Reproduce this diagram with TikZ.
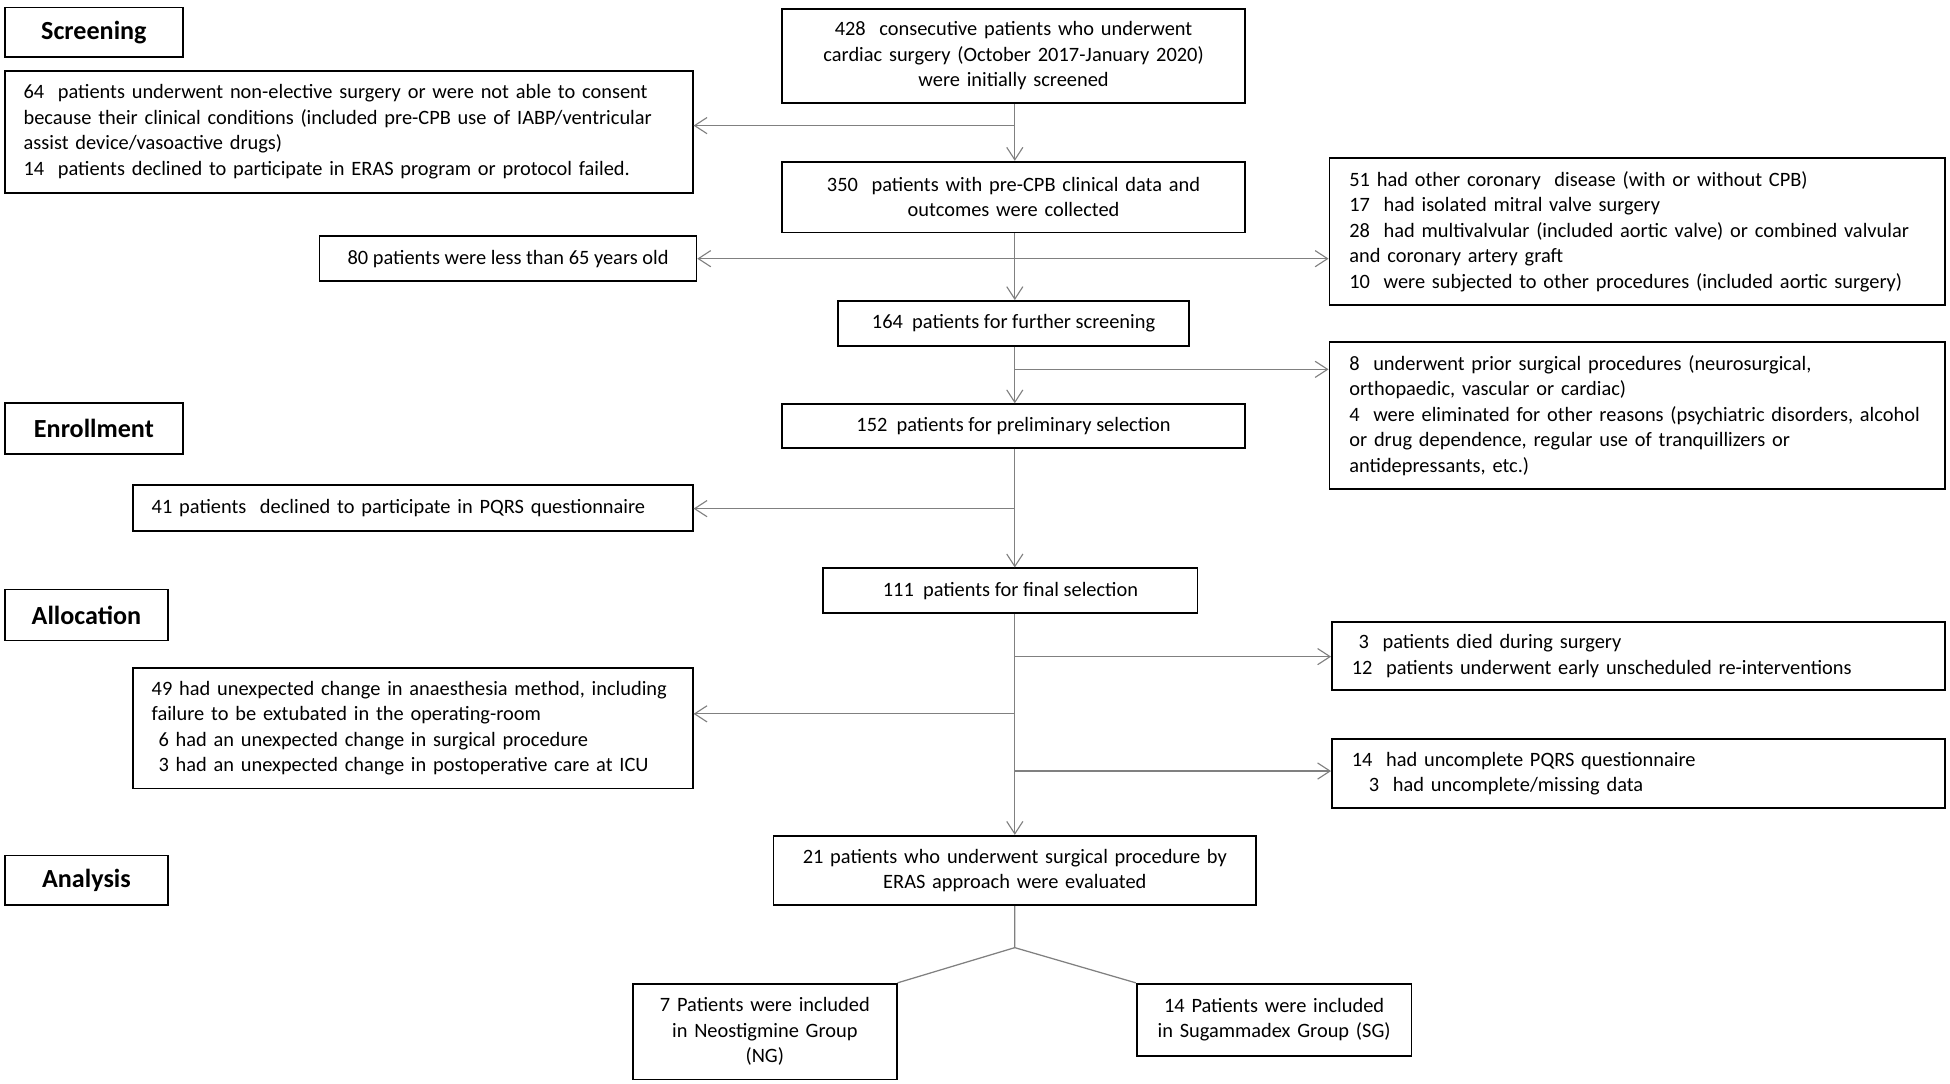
\documentclass[tikz,border=0pt]{standalone}
\usepackage{fontspec}
\setmainfont{Carlito}
\usetikzlibrary{arrows.meta}
\newcommand{\fsbody}{\fontsize{16.4}{20.5}\selectfont}
\newcommand{\fshead}{\fontsize{21}{25}\selectfont\bfseries}
\tikzset{
  bx/.style={draw=black, line width=1.4pt, inner sep=0pt, font=\fsbody, align=center},
  lbx/.style={bx, align=left},
  hbx/.style={draw=black, line width=1.4pt, inner sep=0pt, font=\fshead, align=center},
  ln/.style={draw=black!50, line width=1pt},
  arr/.style={ln, -{Straight Barb[length=10pt,width=13pt,line width=0.9pt]}},
}
\begin{document}
\begin{tikzpicture}[x=1pt,y=-1pt]
\fill[white] (0,0) rectangle (1568,871.6);
\useasboundingbox (0,0) rectangle (1568,871.6);

% stage headings
\node[hbx, minimum width=143, minimum height=40] (hS) at (75.5,26) {Screening};
\node[hbx, minimum width=143, minimum height=41] (hE) at (75.5,344.5) {Enrollment};
\node[hbx, minimum width=131, minimum height=41] (hA) at (69.5,494.5) {Allocation};
\node[hbx, minimum width=131, minimum height=40] (hN) at (69.5,708) {Analysis};

% main column
\node[bx, minimum width=372, minimum height=76, text width=372] (n428) at (815,45)
  {428\ \ consecutive patients who underwent\\cardiac surgery (October 2017-January 2020)\\were initially screened};
\node[bx, minimum width=372, minimum height=57, text width=372] (n350) at (815,158.5)
  {350\ \ patients with pre-CPB clinical data and\\outcomes were collected};
\node[bx, minimum width=282, minimum height=36] (n164) at (815,260)
  {164\ \ patients for further screening};
\node[bx, minimum width=372, minimum height=35] (n152) at (815,342.5)
  {152\ \ patients for preliminary selection};
\node[bx, minimum width=301, minimum height=36] (n111) at (812.5,475)
  {111\ \ patients for final selection};
\node[bx, minimum width=388, minimum height=56, text width=388] (n21) at (816,700)
  {21 patients who underwent surgical procedure by\\ERAS approach were evaluated};
\node[bx, minimum width=212, minimum height=77, text width=212] (n7) at (615,829.5)
  {7 Patients were included\\in Neostigmine Group\\(NG)};
\node[bx, minimum width=221, minimum height=58, text width=221] (nSG) at (1024.5,820)
  {14 Patients were included\\in Sugammadex Group (SG)};

% exclusion boxes left
\node[lbx, minimum width=553, minimum height=98, text width=523] (n64) at (280.5,106)
  {64\ \ patients underwent non-elective surgery or were not able to consent\\because their clinical conditions (included pre-CPB use of IABP/ventricular\\assist device/vasoactive drugs)\\14\ \ patients declined to participate in ERAS program or protocol failed.};
\node[bx, minimum width=303, minimum height=36] (n80) at (408.5,208)
  {80 patients were less than 65 years old};
\node[lbx, minimum width=450, minimum height=37, text width=420] (n41) at (332,408.5)
  {41 patients\ \ declined to participate in PQRS questionnaire};
\node[lbx, minimum width=450, minimum height=97, text width=420] (n49) at (332,585.5)
  {49 had unexpected change in anaesthesia method, including\\failure to be extubated in the operating-room\\\ 6 had an unexpected change in surgical procedure\\\ 3 had an unexpected change in postoperative care at ICU};

% exclusion boxes right
\node[lbx, minimum width=495, minimum height=118, text width=463] (n51) at (1316.5,186)
  {51 had other coronary\ \ disease (with or without CPB)\\17\ \ had isolated mitral valve surgery\\28\ \ had multivalvular (included aortic valve) or combined valvular\\and coronary artery graft\\10\ \ were subjected to other procedures (included aortic surgery)};
\node[lbx, minimum width=495, minimum height=118, text width=463] (n8) at (1316.5,334)
  {8\ \ underwent prior surgical procedures (neurosurgical,\\orthopaedic, vascular or cardiac)\\4\ \ were eliminated for other reasons (psychiatric disorders, alcohol\\or drug dependence, regular use of tranquillizers or\\antidepressants, etc.)};
\node[lbx, minimum width=493, minimum height=55, text width=461] (n3) at (1317.5,527.5)
  {\ 3\ \ patients died during surgery\\12\ \ patients underwent early unscheduled re-interventions};
\node[lbx, minimum width=493, minimum height=56, text width=461] (n14) at (1317.5,622)
  {14\ \ had uncomplete PQRS questionnaire\\\phantom{1}\ 3\ \ had uncomplete/missing data};

% trunk coordinates
\coordinate (tr) at (816,0);
\coordinate (b1) at (816,101);
\coordinate (b2) at (816,208);
\coordinate (b3) at (816,297);
\coordinate (b4) at (816,409);
\coordinate (b5) at (816,528);
\coordinate (b6) at (816,574);
\coordinate (b7) at (816,620);
\coordinate (sp) at (816,762);

% vertical arrows
\draw[arr] (n428.south -| tr) -- (n350.north -| tr);
\draw[arr] (n350.south -| tr) -- (n164.north -| tr);
\draw[arr] (n164.south -| tr) -- (n152.north -| tr);
\draw[arr] (n152.south -| tr) -- (n111.north -| tr);
\draw[arr] (n111.south -| tr) -- (n21.north -| tr);

% side arrows
\draw[arr] (b1) -- (b1 -| n64.east);
\draw[arr] (b2) -- (b2 -| n80.east);
\draw[arr] (b2) -- (b2 -| n51.west);
\draw[arr] (b3) -- (b3 -| n8.west);
\draw[arr] (b4) -- (b4 -| n41.east);
\draw[arr] (b5) -- (b5 -| n3.west);
\draw[arr] (b6) -- (b6 -| n49.east);
\draw[arr] (b7) -- (b7 -| n14.west);

% split
\draw[ln] (n21.south) -- (sp) -- (n7.north east);
\draw[ln] (sp) -- (nSG.north west);
\end{tikzpicture}
\end{document}
